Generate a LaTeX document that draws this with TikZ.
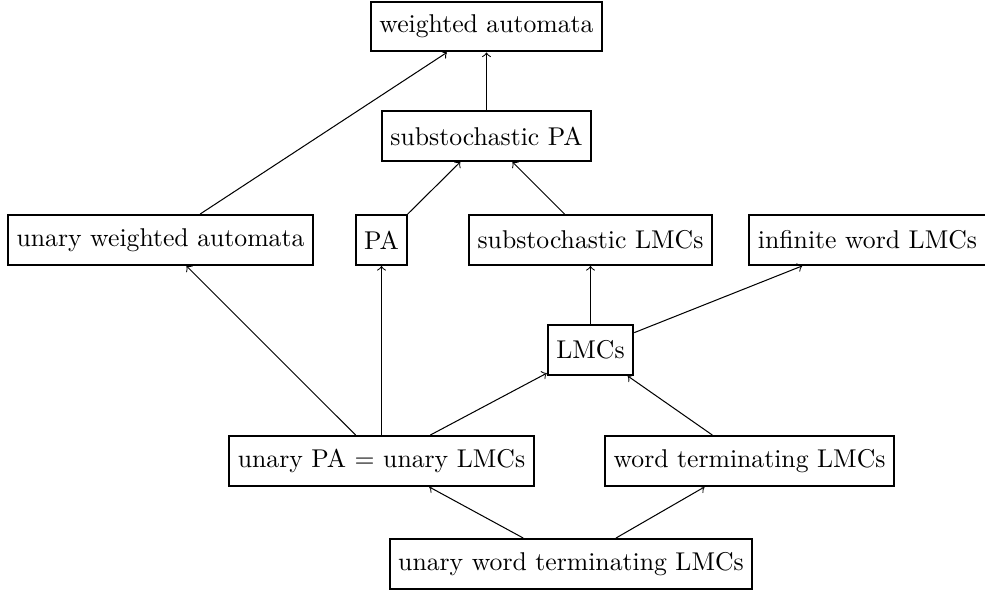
\documentclass[tikz,border=0pt]{standalone}
\begin{document}
\begin{tikzpicture}[x=0.3891pt,y=-0.3891pt,
  box/.style={draw,thick,rectangle,minimum height=19.4pt,inner xsep=3.33pt},
  link/.style={->}]
\useasboundingbox (0,0) rectangle (985,597);
% classes of models
\node[box] (wa)   at (486.5,26.5) {weighted automata};
\node[box] (spa)  at (486.5,136)  {substochastic PA};
\node[box] (uwa)  at (160.5,240)  {unary weighted automata};
\node[box] (pa)   at (381.5,240)  {PA};
\node[box] (slmc) at (590.5,240)  {substochastic LMCs};
\node[box] (iwl)  at (867.5,240)  {infinite word LMCs};
\node[box] (lmc)  at (590.5,350)  {LMCs};
\node[box] (upa)  at (381.5,461)  {unary PA = unary LMCs};
\node[box] (wtl)  at (749.5,461)  {word terminating LMCs};
\node[box] (uwt)  at (571,564)    {unary word terminating LMCs};
% inclusions
\draw[link] (spa)  -- (wa);
\draw[link] (uwa)  -- (wa);
\draw[link] (pa)   -- (spa);
\draw[link] (slmc) -- (spa);
\draw[link] (lmc)  -- (slmc);
\draw[link] (lmc)  -- (iwl);
\draw[link] (upa)  -- (uwa);
\draw[link] (upa)  -- (pa);
\draw[link] (upa)  -- (lmc);
\draw[link] (wtl)  -- (lmc);
\draw[link] (uwt)  -- (upa);
\draw[link] (uwt)  -- (wtl);
\end{tikzpicture}
\end{document}
